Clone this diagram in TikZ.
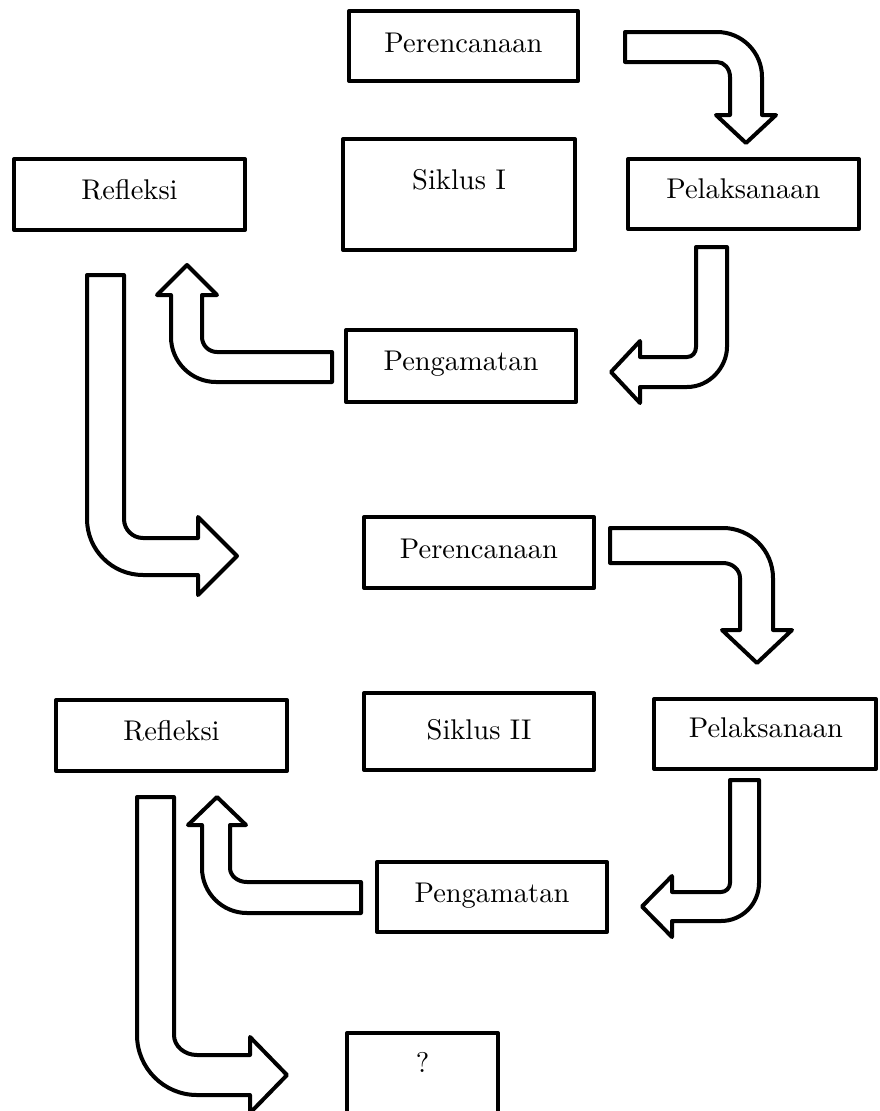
\documentclass[tikz,border=0pt]{standalone}
\usepackage{fontspec}
\newfontfamily\lmten{lmroman10-regular.otf}
\begin{document}
\begin{tikzpicture}[x=1pt,y=-1pt,
  box/.style={draw=black, line width=4pt, line join=round, fill=white, inner sep=0pt},
  lbl/.style={anchor=base, inner sep=0pt, font=\lmten\fontsize{28.5}{34}\selectfont},
  blockarrow/.style={draw=black, line width=4pt, line join=round, fill=white}]
\useasboundingbox (0,0) rectangle (880,1111);
\clip (0,0) rectangle (880,1111);
\fill[white] (0,0) rectangle (880,1111);

% ---------- Siklus I ----------
\node[box, minimum width=229, minimum height=70] (per1) at (463.5,46) {};
\node[box, minimum width=231, minimum height=71] (ref1) at (129.5,194.5) {};
\node[box, minimum width=232, minimum height=111] (sik1) at (459,194.5) {};
\node[box, minimum width=231, minimum height=70] (pel1) at (743.5,194) {};
\node[box, minimum width=230, minimum height=72] (peng1) at (461,366) {};

\node[lbl] (tper1) at (463.5,52) {Perencanaan};
\node[lbl] (tref1) at (129.5,199) {Refleksi};
\node[lbl] (tsik1) at (459,189) {Siklus I};
\node[lbl] (tpel1) at (743.5,198) {Pelaksanaan};
\node[lbl] (tpeng1) at (461,370) {Pengamatan};

% arrow 1: Perencanaan -> Pelaksanaan
\path[blockarrow] (625,32) -- (717,32) .. controls (741.8,32) and (762,52.2) .. (762,77)
  -- (762,115) -- (776,115) -- (746,143) -- (716,115) -- (730,115) -- (730,77)
  .. controls (730,68.7) and (724.2,62) .. (717,62) -- (625,62) -- cycle;

% arrow 2: Pelaksanaan -> Pengamatan
\path[blockarrow] (696,247) -- (727,247) -- (727,347) .. controls (727,366.3) and (710.3,387) .. (687,387)
  -- (640,387) -- (640,403) -- (611,372) -- (640,341) -- (640,357) -- (687,357)
  .. controls (692.5,357) and (696,352.5) .. (696,347) -- cycle;

% arrow 3: Pengamatan -> Refleksi
\path[blockarrow] (332,352) -- (217,352) .. controls (208.7,352) and (202,345.3) .. (202,337)
  -- (202,295) -- (217,295) -- (187,265) -- (157,295) -- (171,295) -- (171,337)
  .. controls (171,361.8) and (191.2,382) .. (216,382) -- (332,382) -- cycle;

% arrow 4: Refleksi -> Perencanaan (Siklus II)
\path[blockarrow] (87,275) -- (124,275) -- (124,519) .. controls (124,529.5) and (132.5,538) .. (143,538)
  -- (198,538) -- (198,517) -- (237,556) -- (198,595) -- (198,575) -- (143,575)
  .. controls (112.1,575) and (87,549.9) .. (87,519) -- cycle;

% ---------- Siklus II ----------
\node[box, minimum width=230, minimum height=71] (per2) at (479,552.5) {};
\node[box, minimum width=230, minimum height=77] (sik2) at (479,731.5) {};
\node[box, minimum width=222, minimum height=70] (pel2) at (765,734) {};
\node[box, minimum width=231, minimum height=71] (ref2) at (171.5,735.5) {};
\node[box, minimum width=230, minimum height=70] (peng2) at (492,897) {};
\node[box, minimum width=151, minimum height=92] (q) at (422.5,1079) {};

\node[lbl] (tper2) at (479,558) {Perencanaan};
\node[lbl] (tsik2) at (479,739) {Siklus II};
\node[lbl] (tpel2) at (766,737) {Pelaksanaan};
\node[lbl] (tref2) at (171.5,740) {Refleksi};
\node[lbl] (tpeng2) at (492,902) {Pengamatan};
\node[lbl] (tq) at (422.5,1072) {?};

% arrow 5
\path[blockarrow] (610,528) -- (723,528) .. controls (750.6,528) and (773,550.4) .. (773,578)
  -- (773,630) -- (792,630) -- (757,663) -- (722,630) -- (740,630) -- (740,578)
  .. controls (740,569.7) and (732.4,563) .. (723,563) -- (610,563) -- cycle;

% arrow 6
\path[blockarrow] (730,780) -- (759,780) -- (759,883) .. controls (759,904) and (742,921) .. (721,921)
  -- (672,921) -- (672,937) -- (642,906.5) -- (672,876) -- (672,892) -- (721,892)
  .. controls (726,892) and (730,888) .. (730,883) -- cycle;

% arrow 7
\path[blockarrow] (361,882) -- (247,882) .. controls (237.6,882) and (230,875.7) .. (230,868)
  -- (230,825) -- (246,825) -- (217,797) -- (188,825) -- (202,825) -- (202,868)
  .. controls (202,892.8) and (222.2,913) .. (247,913) -- (361,913) -- cycle;

% arrow 8
\path[blockarrow] (137,797) -- (174,797) -- (174,1035) .. controls (174,1046) and (184.3,1055) .. (197,1055)
  -- (250,1055) -- (250,1037) -- (287,1075) -- (250,1113) -- (250,1095) -- (197,1095)
  .. controls (163.9,1095) and (137,1068.1) .. (137,1035) -- cycle;
\end{tikzpicture}
\end{document}
